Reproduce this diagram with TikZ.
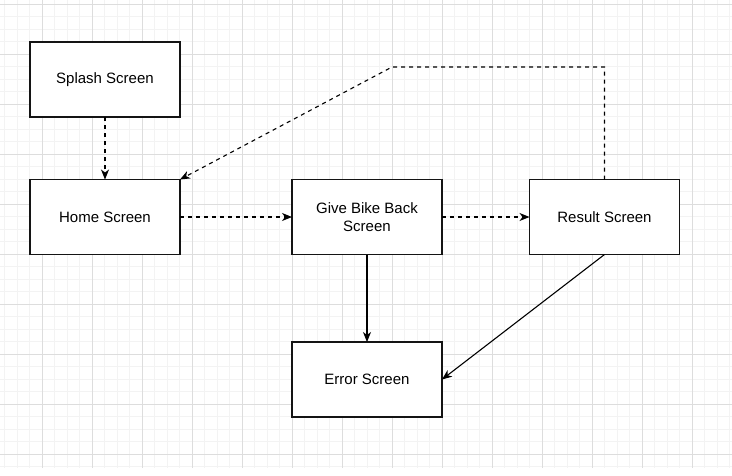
\documentclass[tikz,border=0pt]{standalone}
\usepackage{fontspec}
\setmainfont{Liberation Sans}
\usetikzlibrary{arrows.meta}
\definecolor{gridmajor}{RGB}{221,221,221}
\definecolor{gridminor}{RGB}{243,243,243}
\definecolor{boxline}{RGB}{20,20,20}
\tikzset{
  screenbox/.style={draw=boxline, fill=white, line width=1.1pt, minimum width=150pt, minimum height=75pt, inner sep=2pt, outer sep=0pt, align=center, font=\fontsize{15}{18}\selectfont},
  dasharrow/.style={draw=black, line width=1.1pt, dash pattern=on 4pt off 4pt, -{Stealth[length=10pt,width=8pt,inset=3pt]}},
  solidarrow/.style={draw=black, line width=1.1pt, -{Stealth[length=10pt,width=8pt,inset=3pt]}},
  gridminorline/.style={draw=gridminor, line width=1pt},
  gridmajorline/.style={draw=gridmajor, line width=1pt}
}
\begin{document}
\begin{tikzpicture}[x=1pt,y=-1pt]
\useasboundingbox (0,0) rectangle (732,475);
\fill[white] (0,0) rectangle (732,475);
% grid
\foreach \i in {0,...,58} \draw[gridminorline] ({4.8+12.5*\i},0) -- ({4.8+12.5*\i},467.7);
\foreach \i in {0,...,37} \draw[gridminorline] (0,{4.3+12.5*\i}) -- (732,{4.3+12.5*\i});
\foreach \i in {0,...,13} \draw[gridmajorline] ({42.3+50*\i},0) -- ({42.3+50*\i},467.7);
\foreach \i in {0,...,9} \draw[gridmajorline] (0,{4.3+50*\i}) -- (732,{4.3+50*\i});
% boxes
\node[screenbox] (splash) at (105,79.5) {Splash Screen};
\node[screenbox] (home) at (105,217) {Home Screen};
\node[screenbox] (give) at (367,217) {Give Bike Back\\Screen};
\node[screenbox] (result) at (604.5,217) {Result Screen};
\node[screenbox] (error) at (367,379.5) {Error Screen};
% connectors
\coordinate (c1) at (604.5,67);
\coordinate (c2) at (392,67);
\draw[dasharrow] (splash.south) -- (home.north);
\draw[dasharrow] (home.east) -- (give.west);
\draw[dasharrow] (give.east) -- (result.west);
\draw[dasharrow] (result.north) -- (c1) -- (c2) -- (home.north east);
\draw[solidarrow] (give.south) -- (error.north);
\draw[solidarrow] (result.south) -- (error.east);
\end{tikzpicture}
\end{document}
